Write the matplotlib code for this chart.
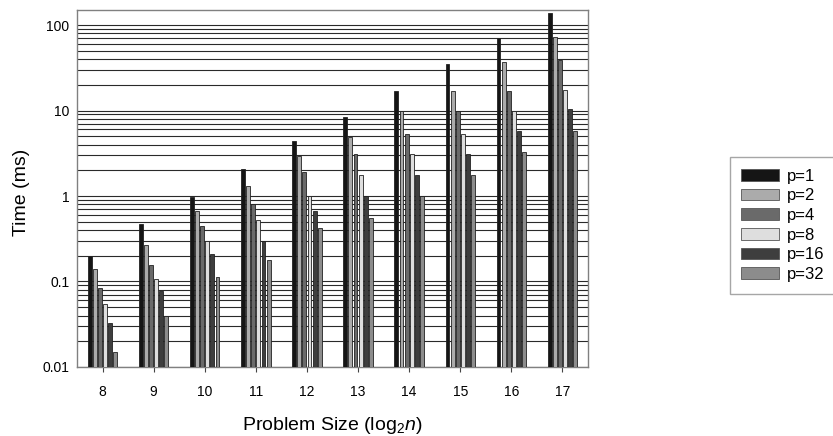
import numpy as np
import matplotlib
matplotlib.use("Agg")
import matplotlib.pyplot as plt
from matplotlib.patches import Patch
from matplotlib.ticker import FixedLocator, LogLocator, NullFormatter

plt.rcParams['font.family'] = ['Liberation Sans', 'DejaVu Sans']
plt.rcParams['mathtext.fontset'] = 'custom'
plt.rcParams['mathtext.rm'] = 'Liberation Sans'
plt.rcParams['mathtext.it'] = 'Liberation Sans:italic'

# problem sizes (log2 n) and times in ms for each processor count
sizes = ['8', '9', '10', '11', '12', '13', '14', '15', '16', '17']
procs = ['p=1', 'p=2', 'p=4', 'p=8', 'p=16', 'p=32']

t_p1 = [0.20, 0.47, 0.98, 2.07, 4.4, 8.5, 17.1, 34.7, 70.0, 139.0]
t_p2 = [0.139, 0.267, 0.668, 1.32, 2.97, 4.95, 9.95, 17.1, 36.6, 72.4]
t_p4 = [0.085, 0.156, 0.446, 0.81, 1.92, 3.10, 5.27, 9.95, 17.1, 38.6]
t_p8 = [0.054, 0.106, 0.30, 0.53, 1.0, 1.76, 3.10, 5.31, 10.0, 17.3]
t_p16 = [0.033, 0.077, 0.21, 0.298, 0.668, 1.0, 1.76, 3.10, 5.7, 10.4]
t_p32 = [0.015, 0.040, 0.112, 0.177, 0.42, 0.553, 1.01, 1.77, 3.3, 5.78]

series = [t_p1, t_p2, t_p4, t_p8, t_p16, t_p32]
colors = ['#151515', '#ababab', '#6a6a6a', '#dedede', '#3e3e3e', '#8c8c8c']

fig = plt.figure(figsize=(8.33, 4.36), dpi=100)
ax = fig.add_axes([0.0924, 0.1583, 0.6135, 0.8188])

x = np.arange(len(sizes))
step = 0.1
w = 0.075
for j, vals in enumerate(series):
    ax.bar(x + (j - 2.5) * step, vals, width=w,
           color=colors[j], edgecolor='#222222', linewidth=0.6, zorder=3)

ax.set_yscale('log')
ax.set_ylim(0.01, 150)
ax.set_xlim(-0.5, len(sizes) - 0.5)

ax.yaxis.set_major_locator(FixedLocator([0.01, 0.1, 1, 10, 100]))
ax.set_yticklabels(['0.01', '0.1', '1', '10', '100'])
ax.yaxis.set_minor_locator(LogLocator(base=10, subs=np.arange(2, 10)))
ax.yaxis.set_minor_formatter(NullFormatter())
ax.yaxis.grid(True, which='both', color='#2a2a2a', linewidth=0.8, zorder=0)
ax.set_axisbelow(True)

ax.set_xticks(x)
ax.set_xticklabels(sizes)
ax.tick_params(axis='y', which='both', length=0, labelsize=10, pad=5.5)
ax.tick_params(axis='x', length=3.8, width=0.8, color='#444444',
               labelsize=10, pad=9)

for s in ax.spines.values():
    s.set_color('#808080')
    s.set_linewidth(1.0)

ax.set_ylabel('Time (ms)', fontsize=14)
ax.yaxis.set_label_coords(-0.092, 0.49)
ax.set_xlabel(r'Problem Size (log$_2$$\mathit{n}$)', fontsize=14)
ax.xaxis.set_label_coords(0.5, -0.135)

handles = [Patch(facecolor=c, edgecolor='#555555', linewidth=0.6) for c in colors]
fig.legend(handles, procs, loc='upper left', bbox_to_anchor=(0.876, 0.64),
           borderaxespad=0, frameon=True, fancybox=False, edgecolor='#909090',
           fontsize=12, handlelength=2.25, handleheight=0.7, labelspacing=0.28,
           borderpad=0.7, handletextpad=0.46)

fig.savefig('out.png', dpi=100)
